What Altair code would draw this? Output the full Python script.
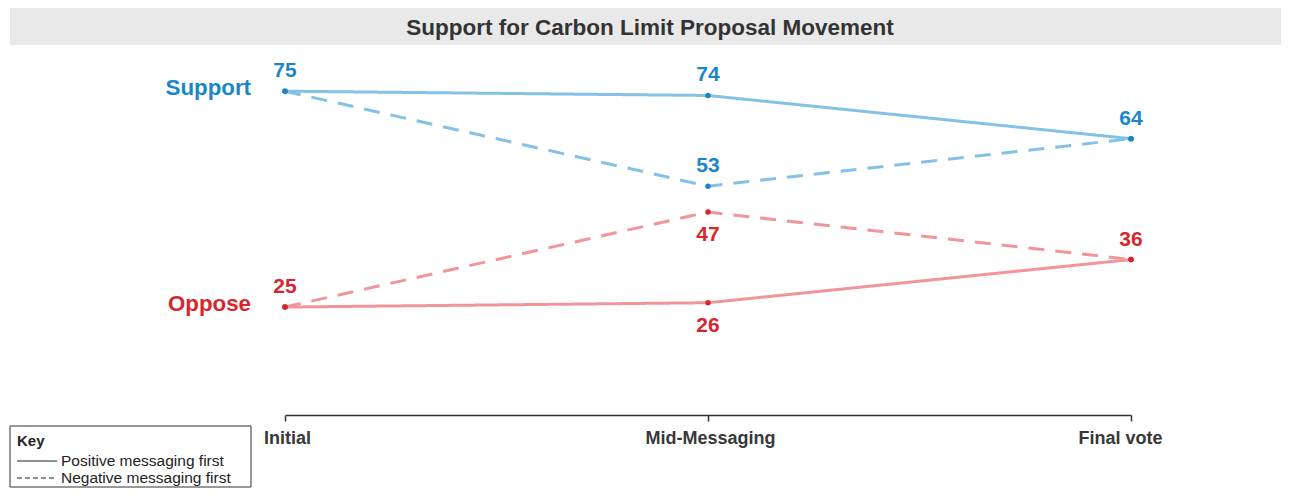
import altair as alt
import pandas as pd

# ---- data ----
stages = ["Initial", "Mid-Messaging", "Final vote"]
series_names = ["Support", "Oppose"]
order_names = ["Positive messaging first", "Negative messaging first"]

support_positive = [75, 74, 64]
support_negative = [75, 53, 64]
oppose_positive = [25, 26, 36]
oppose_negative = [25, 47, 36]

# value labels (one per distinct point)
label_stages = ["Initial", "Mid-Messaging", "Mid-Messaging", "Final vote",
                "Initial", "Mid-Messaging", "Mid-Messaging", "Final vote"]
label_series = ["Support", "Support", "Support", "Support",
                "Oppose", "Oppose", "Oppose", "Oppose"]
label_values = [75, 74, 53, 64, 25, 26, 47, 36]
label_side = ["above", "above", "above", "above",
              "above", "below", "below", "above"]

title_text = "Support for Carbon Limit Proposal Movement"
key_title = "Key"

line_colors = ["#84c1e4", "#f09599"]
dot_colors = ["#1a86c8", "#d7262e"]

rows = []
for s, o, vals in [("Support", order_names[0], support_positive),
                   ("Support", order_names[1], support_negative),
                   ("Oppose", order_names[0], oppose_positive),
                   ("Oppose", order_names[1], oppose_negative)]:
    for st, v in zip(stages, vals):
        rows.append({"stage": st, "value": v, "series": s, "order": o})
df = pd.DataFrame(rows)
df["grp"] = df["series"]

labels_df = pd.DataFrame({"stage": label_stages, "grp": label_series,
                          "value": label_values, "side": label_side})

series_df = pd.DataFrame({"grp": series_names, "value": [75, 25]})

FONT = "Liberation Sans"

x_enc = alt.X("stage:N", sort=stages,
              scale=alt.Scale(type="point", padding=0),
              axis=alt.Axis(title=None, labelAngle=0, labelFontWeight="bold",
                            labelFontSize=18, labelColor="#383838",
                            labelFont=FONT, labelPadding=8,
                            domainColor="#333333", domainWidth=1.5,
                            tickColor="#333333", tickSize=6, tickWidth=1.5,
                            labelOffset={"condition": {"test": "datum.value == 'Final vote'", "value": -11}, "value": 2}))
y_enc = alt.Y("value:Q", scale=alt.Scale(domain=[0, 85], nice=False, zero=False), axis=None)

color_line = alt.Color("series:N", scale=alt.Scale(domain=series_names, range=line_colors), legend=None)
color_dark = alt.Color("grp:N", scale=alt.Scale(domain=series_names, range=dot_colors), legend=None)

lines = alt.Chart(df).mark_line(strokeWidth=3).encode(
    x=x_enc, y=y_enc,
    color=color_line,
    strokeDash=alt.StrokeDash("order:N", scale=alt.Scale(domain=order_names, range=[[1, 0], [16, 11]]), legend=None),
    detail="order:N",
)

dots = alt.Chart(df).mark_circle(size=30, opacity=1).encode(
    x=x_enc, y=y_enc, color=color_dark
)

above = alt.Chart(labels_df).transform_filter("datum.side == 'above'").mark_text(
    font=FONT, fontWeight="bold", fontSize=21, dy=-20, baseline="middle"
).encode(x=x_enc, y=y_enc, text="value:Q", color=color_dark)

below = alt.Chart(labels_df).transform_filter("datum.side == 'below'").mark_text(
    font=FONT, fontWeight="bold", fontSize=21, dy=23, baseline="middle"
).encode(x=x_enc, y=y_enc, text="value:Q", color=color_dark)

series_lbl = alt.Chart(series_df).mark_text(
    font=FONT, fontWeight="bold", fontSize=22.3, align="right", baseline="middle", dy=-3
).encode(x=alt.value(-34), y=y_enc, text="grp:N", color=color_dark)

one = pd.DataFrame({"k": [0]})

title_bg = alt.Chart(one).mark_rect(color="#e9e9e9").encode(
    x=alt.value(-275), x2=alt.value(996), y=alt.value(-40), y2=alt.value(-3)
)
title_txt = alt.Chart(one).mark_text(
    font=FONT, fontWeight="bold", fontSize=22.5, color="#333333", baseline="middle", align="center"
).encode(x=alt.value(365), y=alt.value(-20), text=alt.value(title_text))

key_box = alt.Chart(one).mark_rect(fill="white", stroke="#333333", strokeWidth=1).encode(
    x=alt.value(-275), x2=alt.value(-34), y=alt.value(378), y2=alt.value(439)
)
key_head = alt.Chart(one).mark_text(
    font=FONT, fontWeight="bold", fontSize=15, color="#222222", align="left", baseline="middle"
).encode(x=alt.value(-268), y=alt.value(393), text=alt.value(key_title))
key_solid = alt.Chart(one).mark_rule(color="#222222", strokeWidth=1).encode(
    x=alt.value(-268), x2=alt.value(-228), y=alt.value(413)
)
key_dash = alt.Chart(one).mark_rule(color="#222222", strokeWidth=1, strokeDash=[5, 3]).encode(
    x=alt.value(-268), x2=alt.value(-228), y=alt.value(430)
)
key_t1 = alt.Chart(one).mark_text(
    font=FONT, fontSize=15.5, color="#222222", align="left", baseline="middle"
).encode(x=alt.value(-224), y=alt.value(413), text=alt.value(order_names[0]))
key_t2 = alt.Chart(one).mark_text(
    font=FONT, fontSize=15.5, color="#222222", align="left", baseline="middle"
).encode(x=alt.value(-224), y=alt.value(430), text=alt.value(order_names[1]))

chart = alt.layer(
    title_bg, title_txt, lines, dots, above, below, series_lbl,
    key_box, key_head, key_solid, key_dash, key_t1, key_t2
).resolve_scale(color="independent").properties(
    width=846, height=367,
    autosize=alt.AutoSizeParams(type="none"),
    padding={"left": 277, "top": 40, "right": 150, "bottom": 73},
).configure_view(stroke=None)

chart.save("out.html", embed_options={"renderer": "svg", "actions": False})
